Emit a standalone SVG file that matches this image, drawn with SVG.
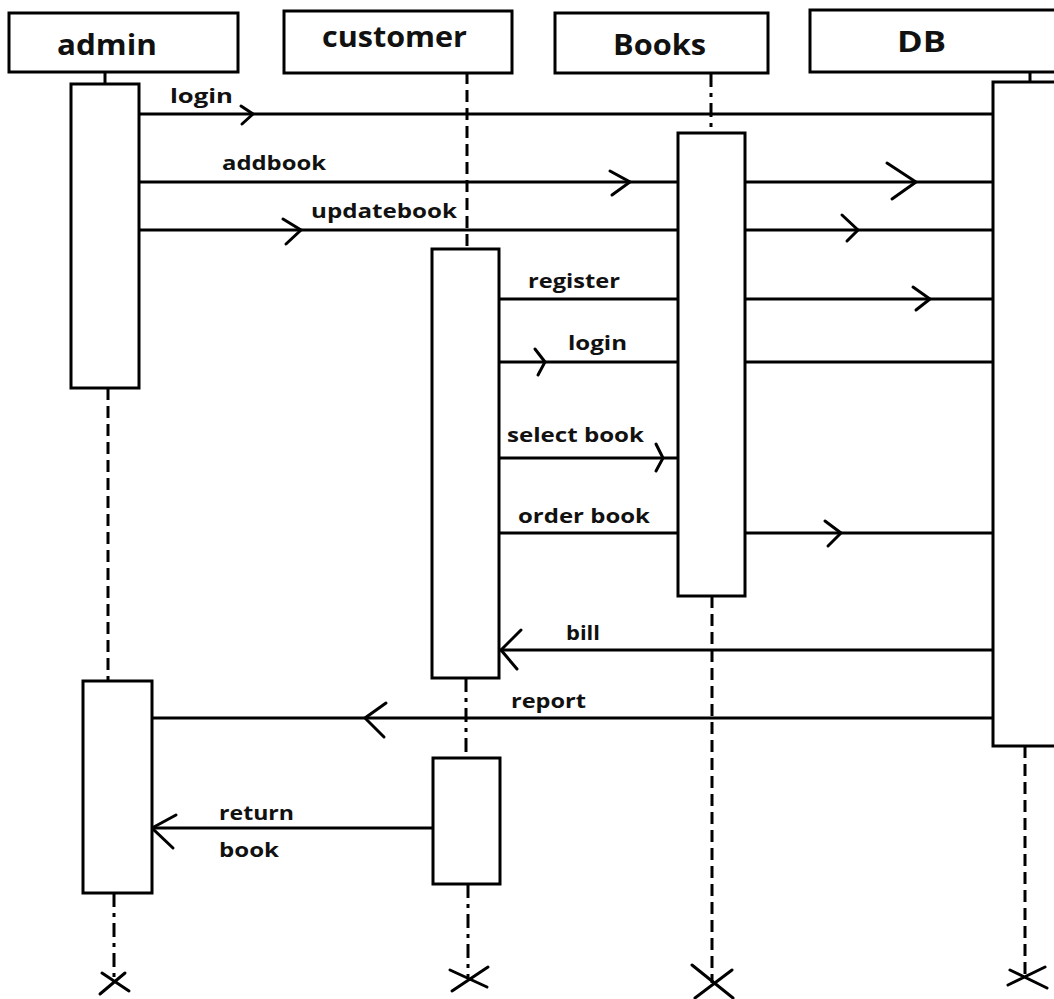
<svg xmlns="http://www.w3.org/2000/svg" width="1054" height="999" viewBox="0 0 1054 999">
<style>
.box{fill:#fff;stroke:#000;stroke-width:3}
.hd{font-family:"Open Sans","Liberation Sans",sans-serif;font-weight:bold;font-size:29px;fill:#111}
.lb{font-family:"Open Sans","Liberation Sans",sans-serif;font-weight:bold;font-size:19px;fill:#111}
.msg{stroke:#000;stroke-width:3;fill:none}
.ah{stroke:#000;stroke-width:3;fill:none;stroke-linecap:round;stroke-linejoin:miter}
.dash{stroke:#000;stroke-width:3;fill:none;stroke-dasharray:12 6}
.dd{stroke:#000;stroke-width:3;fill:none;stroke-dasharray:14 6 4 6}
</style>
<rect width="1054" height="999" fill="#fff"/>
<g id="lifelines">
<line class="msg" x1="105" y1="72" x2="105" y2="84"/>
<line class="dash" x1="108" y1="388" x2="108" y2="681"/>
<line class="dd" x1="114" y1="893" x2="114" y2="983"/>
<line class="dash" x1="467" y1="72" x2="467" y2="249"/>
<line class="dd" x1="466" y1="678" x2="466" y2="758"/>
<line class="dd" x1="468" y1="884" x2="468" y2="978"/>
<line class="dd" x1="711" y1="73" x2="711" y2="133"/>
<line class="dash" x1="712" y1="596" x2="712" y2="983"/>
<line class="msg" x1="1030" y1="72" x2="1030" y2="82"/>
<line class="dash" x1="1025" y1="746" x2="1025" y2="977"/>
</g>
<g id="connectors">
<line class="msg" x1="139" y1="114" x2="993" y2="114"/>
<path class="ah" d="M241 106 L253 114 L242 124"/>
<text class="lb" x="170" y="103" textLength="63" lengthAdjust="spacingAndGlyphs">login</text>
<line class="msg" x1="139" y1="182" x2="993" y2="182"/>
<path class="ah" d="M610 171 L630 182 L612 195"/>
<path class="ah" d="M887 163 L916 182 L892 199"/>
<text class="lb" x="222" y="170" textLength="104" lengthAdjust="spacingAndGlyphs">addbook</text>
<line class="msg" x1="139" y1="230" x2="998" y2="230"/>
<path class="ah" d="M283 219 L301 230 L286 244"/>
<path class="ah" d="M842 215 L858 230 L847 241"/>
<text class="lb" x="311" y="218" textLength="146" lengthAdjust="spacingAndGlyphs">updatebook</text>
<line class="msg" x1="499" y1="299" x2="998" y2="299"/>
<path class="ah" d="M913 287 L930 299 L916 310"/>
<text class="lb" x="528" y="288" textLength="92" lengthAdjust="spacingAndGlyphs">register</text>
<line class="msg" x1="499" y1="362" x2="993" y2="362"/>
<path class="ah" d="M535 349 L545 362 L538 375"/>
<text class="lb" x="568" y="350" textLength="59" lengthAdjust="spacingAndGlyphs">login</text>
<line class="msg" x1="499" y1="458" x2="678" y2="458"/>
<path class="ah" d="M656 444 L663 458 L656 471"/>
<text class="lb" x="507" y="442" textLength="137" lengthAdjust="spacingAndGlyphs">select book</text>
<line class="msg" x1="499" y1="533" x2="993" y2="533"/>
<path class="ah" d="M825 521 L841 533 L828 546"/>
<text class="lb" x="518" y="523" textLength="132" lengthAdjust="spacingAndGlyphs">order book</text>
<line class="msg" x1="499" y1="650" x2="993" y2="650"/>
<path class="ah" d="M521 630 L501 650 L517 669"/>
<text class="lb" x="566" y="640" textLength="34" lengthAdjust="spacingAndGlyphs">bill</text>
<line class="msg" x1="152" y1="718" x2="993" y2="718"/>
<path class="ah" d="M386 703 L365 718 L384 737"/>
<text class="lb" x="511" y="708" textLength="75" lengthAdjust="spacingAndGlyphs">report</text>
<line class="msg" x1="152" y1="828" x2="433" y2="828"/>
<path class="ah" d="M176 815 L152 828 L173 848"/>
<text class="lb" x="219" y="820" textLength="75" lengthAdjust="spacingAndGlyphs">return</text>
<text class="lb" x="219" y="857" textLength="60" lengthAdjust="spacingAndGlyphs">book</text>
</g>
<g id="admin">
<rect class="box" x="9" y="13" width="229" height="59"/>
<text class="hd" x="57" y="55" textLength="100" lengthAdjust="spacingAndGlyphs">admin</text>
<rect class="box" x="71" y="84" width="68" height="304"/>
<rect class="box" x="83" y="681" width="69" height="212"/>
<path class="ah" d="M100 994 L125 973 M102 973 L129 991"/>
</g>
<g id="customer">
<rect class="box" x="284" y="11" width="228" height="62"/>
<text class="hd" x="322" y="47" textLength="145" lengthAdjust="spacingAndGlyphs">customer</text>
<rect class="box" x="432" y="249" width="67" height="429"/>
<rect class="box" x="433" y="758" width="67" height="126"/>
<path class="ah" d="M452 991 L488 967 M450 970 L487 987"/>
</g>
<g id="Books">
<rect class="box" x="555" y="13" width="213" height="60"/>
<text class="hd" x="613" y="55" textLength="93" lengthAdjust="spacingAndGlyphs">Books</text>
<rect class="box" x="678" y="133" width="67" height="463"/>
<path class="ah" d="M692 965 L733 998 M732 970 L695 998"/>
</g>
<g id="DB">
<rect class="box" x="810" y="10" width="250" height="62"/>
<text class="hd" x="897" y="52" textLength="49" lengthAdjust="spacingAndGlyphs">DB</text>
<rect class="box" x="993" y="82" width="70" height="664"/>
<path class="ah" d="M1008 985 L1045 967 M1010 970 L1047 988"/>
</g>
</svg>
